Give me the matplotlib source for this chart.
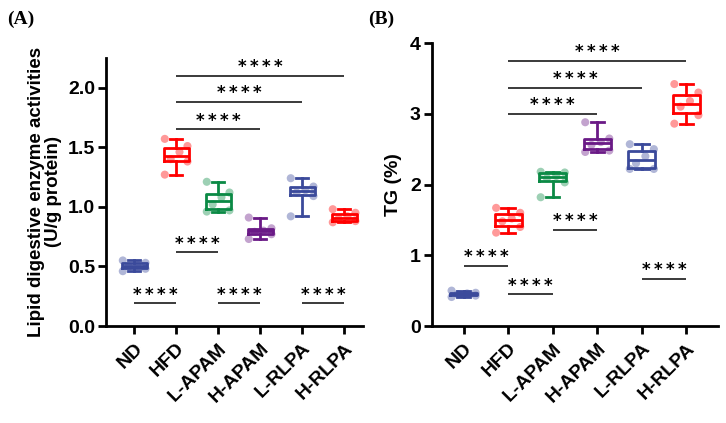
import numpy as np
import matplotlib.pyplot as plt

# Group names and colours
groups = ['ND', 'HFD', 'L-APAM', 'H-APAM', 'L-RLPA', 'H-RLPA']
colors = ['#3b4a9b', '#ff0000', '#0b8a45', '#6a1a86', '#3b4a9b', '#ff0000']

# Lipid digestive enzyme activities (U/g protein)
enzyme_nd = [0.46, 0.48, 0.50, 0.51, 0.53, 0.55]
enzyme_hfd = [1.27, 1.38, 1.40, 1.46, 1.51, 1.57]
enzyme_lapam = [0.96, 0.97, 1.02, 1.08, 1.12, 1.21]
enzyme_hapam = [0.73, 0.77, 0.79, 0.80, 0.82, 0.91]
enzyme_lrlpa = [0.92, 1.09, 1.12, 1.14, 1.17, 1.24]
enzyme_hrlpa = [0.87, 0.88, 0.90, 0.92, 0.95, 0.98]

# TG (%)
tg_nd = [0.41, 0.43, 0.45, 0.46, 0.47, 0.50]
tg_hfd = [1.32, 1.40, 1.48, 1.52, 1.60, 1.67]
tg_lapam = [1.82, 2.03, 2.09, 2.12, 2.17, 2.18]
tg_hapam = [2.46, 2.48, 2.56, 2.60, 2.65, 2.88]
tg_lrlpa = [2.22, 2.22, 2.30, 2.40, 2.50, 2.57]
tg_hrlpa = [2.86, 2.98, 3.10, 3.18, 3.30, 3.42]

# significance brackets: (group i, group j, height)
sig_a = [(0, 1, 0.19), (3, 2, 0.19), (4, 5, 0.19), (1, 2, 0.62),
         (1, 3, 1.65), (1, 4, 1.88), (1, 5, 2.10)]
sig_b = [(0, 1, 0.85), (1, 2, 0.45), (2, 3, 1.36), (4, 5, 0.67),
         (1, 3, 3.00), (1, 4, 3.37), (1, 5, 3.75)]

# horizontal spread of the dots inside each box
jitter = [-0.27, 0.27, -0.13, 0.08, 0.27, -0.27]

plt.rcParams['font.family'] = ['Liberation Sans', 'DejaVu Sans']
plt.rcParams['font.weight'] = 'bold'

fig = plt.figure(figsize=(7.26, 4.23), dpi=100)
ax1 = fig.add_axes([0.146, 0.2293, 0.354, 0.634])
ax2 = fig.add_axes([0.595, 0.2293, 0.394, 0.669])


def draw_panel(ax, data, sigs, ylim, xlim, yticks, fmt):
    pos = np.arange(len(groups))
    for i, vals in enumerate(data):
        c = colors[i]
        ax.boxplot([vals], positions=[i], widths=0.6, whis=(0, 100),
                   patch_artist=False, showfliers=False,
                   boxprops=dict(color=c, linewidth=2),
                   whiskerprops=dict(color=c, linewidth=2),
                   capprops=dict(color=c, linewidth=2),
                   medianprops=dict(color=c, linewidth=2),
                   capwidths=0.3)
        xs = [i + jitter[k] for k in range(len(vals))]
        ax.scatter(xs, vals, s=34, color=c, alpha=0.4, edgecolors='none', zorder=3)
    for a, b, h in sigs:
        ax.plot([a, b], [h, h], color='#3a3a3a', lw=1.4, solid_capstyle='butt')
        ax.annotate('*\u2009*\u2009*\u2009*', xy=((a + b) / 2, h), xytext=(0, 2.5),
                    textcoords='offset points', ha='center', va='baseline',
                    fontsize=12, fontweight='bold', family='DejaVu Sans')
    ax.set_xlim(*xlim)
    ax.set_ylim(*ylim)
    ax.set_yticks(yticks)
    ax.set_yticklabels([fmt.format(t) for t in yticks])
    ax.set_xticks(pos)
    ax.set_xticklabels(groups, rotation=45, ha='right', rotation_mode='anchor')
    for s in ['top', 'right']:
        ax.spines[s].set_visible(False)
    for s in ['left', 'bottom']:
        ax.spines[s].set_linewidth(2)
    ax.tick_params(width=2, length=6, labelsize=14, pad=2)
    ax.tick_params(axis='x', pad=4)
    for lab in ax.get_xticklabels() + ax.get_yticklabels():
        lab.set_fontweight('bold')


draw_panel(ax1, [enzyme_nd, enzyme_hfd, enzyme_lapam, enzyme_hapam, enzyme_lrlpa, enzyme_hrlpa],
           sig_a, (0, 2.25), (-0.67, 5.45), [0.0, 0.5, 1.0, 1.5, 2.0], '{:.1f}')
draw_panel(ax2, [tg_nd, tg_hfd, tg_lapam, tg_hapam, tg_lrlpa, tg_hrlpa],
           sig_b, (0, 4), (-0.71, 5.71), [0, 1, 2, 3, 4], '{:d}')

ax1.set_ylabel('Lipid digestive enzyme activities\n(U/g protein)', fontsize=13.5,
               fontweight='bold', labelpad=4, linespacing=1.0)
ax2.set_ylabel('TG (%)', fontsize=14, fontweight='bold', labelpad=6)

fig.text(0.01, 0.975, '(A)', fontsize=14, fontweight='bold', family='Liberation Serif', va='top')
fig.text(0.507, 0.975, '(B)', fontsize=14, fontweight='bold', family='Liberation Serif', va='top')

fig.savefig('out.png', dpi=100)
